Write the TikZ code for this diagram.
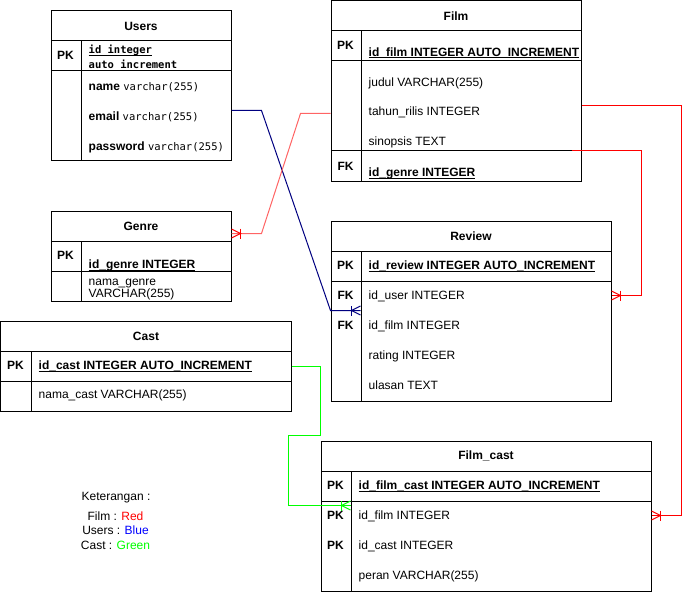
\documentclass[tikz,border=0pt]{standalone}
\usepackage{fontspec}
\setmainfont{Liberation Sans}
\setmonofont{DejaVu Sans Mono}

\definecolor{filmred}{RGB}{255,0,0}
\definecolor{filmpink}{RGB}{255,100,100}
\definecolor{userblue}{RGB}{0,0,128}
\definecolor{castgreen}{RGB}{0,255,0}

\newcommand{\sqltype}[1]{{\fontsize{10.5}{12}\selectfont\ttfamily #1}}
\newcommand{\keyfield}[1]{\setbox0\hbox{#1}\rlap{\rule[-2pt]{\wd0}{1pt}}\box0}

\tikzset{
  cell/.style={draw, anchor=north west, inner sep=0pt, line width=1pt},
  key/.style={anchor=base, inner sep=0pt, font=\fontsize{12}{14}\selectfont\bfseries},
  fld/.style={anchor=base west, inner sep=0pt},
  link/.style={line width=1pt},
  many/.pic={
    \draw[line width=1pt] (0,-4.5) -- (9,0) -- (0,4.5);
    \draw[line width=1pt] (9,-5) -- (9,5);
  }
}

\begin{document}
\begin{tikzpicture}[x=1pt, y=-1pt, font=\fontsize{12}{14}\selectfont]
\useasboundingbox (-0.5,-0.5) rectangle (688.5,590.8);

% Users
\node[cell, minimum width=180, minimum height=30] (users) at (50,10) {\textbf{Users}};
\node[cell, minimum width=30, minimum height=30] (users-pk) at (50,40) {};
\node[cell, minimum width=150, minimum height=30] (users-pkf) at (80,40) {};
\node[cell, minimum width=30, minimum height=90] (users-k) at (50,70) {};
\node[cell, minimum width=150, minimum height=90] (users-f) at (80,70) {};
\node[key] (users-pklbl) at (65,59.5) {PK};
\node[fld, font=\fontsize{10.5}{12}\selectfont\ttfamily\bfseries] (users-id) at (88,53.5) {\keyfield{id integer}};
\node[fld, font=\fontsize{10.5}{12}\selectfont\ttfamily\bfseries] (users-auto) at (88,68) {auto increment};
\node[fld] (users-name) at (88,90) {\textbf{name} \sqltype{varchar(255)}};
\node[fld] (users-email) at (88,120) {\textbf{email} \sqltype{varchar(255)}};
\node[fld] (users-pass) at (88,150) {\textbf{password} \sqltype{varchar(255)}};

% Film
\node[cell, minimum width=250, minimum height=30] (film) at (330,0) {\textbf{Film}};
\node[cell, minimum width=30, minimum height=30] (film-pk) at (330,30) {};
\node[cell, minimum width=220, minimum height=30] (film-pkf) at (360,30) {};
\node[cell, minimum width=30, minimum height=90] (film-k) at (330,60) {};
\node[cell, minimum width=220, minimum height=90] (film-f) at (360,60) {};
\node[cell, minimum width=30, minimum height=30] (film-fk) at (330,150) {};
\node[cell, minimum width=220, minimum height=30] (film-fkf) at (360,150) {};
\node[key] (film-pklbl) at (345,49) {PK};
\node[fld] (film-id) at (368,56) {\keyfield{\textbf{id\_film INTEGER AUTO\_INCREMENT}}};
\node[fld] (film-judul) at (368,86) {judul VARCHAR(255)};
\node[fld] (film-tahun) at (368,115.5) {tahun\_rilis INTEGER};
\node[fld] (film-sinopsis) at (368,145.5) {sinopsis TEXT};
\node[key] (film-fklbl) at (345,169.5) {FK};
\node[fld] (film-genre) at (368,176) {\keyfield{\textbf{id\_genre INTEGER}}};

% Genre
\node[cell, minimum width=180, minimum height=30] (genre) at (50,210) {\textbf{Genre}};
\node[cell, minimum width=30, minimum height=30] (genre-pk) at (50,240) {};
\node[cell, minimum width=150, minimum height=30] (genre-pkf) at (80,240) {};
\node[cell, minimum width=30, minimum height=30] (genre-k) at (50,270) {};
\node[cell, minimum width=150, minimum height=30] (genre-f) at (80,270) {};
\node[key] (genre-pklbl) at (65,259) {PK};
\node[fld] (genre-id) at (88,268) {\keyfield{\textbf{id\_genre INTEGER}}};
\node[fld] (genre-nama) at (88,284.5) {nama\_genre};
\node[fld] (genre-type) at (88,296.5) {VARCHAR(255)};

% Cast
\node[cell, minimum width=290, minimum height=30] (cast) at (0,320) {\textbf{Cast}};
\node[cell, minimum width=30, minimum height=30] (cast-pk) at (0,350) {};
\node[cell, minimum width=260, minimum height=30] (cast-pkf) at (30,350) {};
\node[cell, minimum width=30, minimum height=30] (cast-k) at (0,380) {};
\node[cell, minimum width=260, minimum height=30] (cast-f) at (30,380) {};
\node[key] (cast-pklbl) at (15,369) {PK};
\node[fld] (cast-id) at (38,369) {\keyfield{\textbf{id\_cast INTEGER AUTO\_INCREMENT}}};
\node[fld] (cast-nama) at (38,397.5) {nama\_cast VARCHAR(255)};

% Review
\node[cell, minimum width=280, minimum height=30] (review) at (330,220) {\textbf{Review}};
\node[cell, minimum width=30, minimum height=30] (review-pk) at (330,250) {};
\node[cell, minimum width=250, minimum height=30] (review-pkf) at (360,250) {};
\node[cell, minimum width=30, minimum height=120] (review-k) at (330,280) {};
\node[cell, minimum width=250, minimum height=120] (review-f) at (360,280) {};
\node[key] (review-pklbl) at (345,269) {PK};
\node[fld] (review-id) at (368,269) {\keyfield{\textbf{id\_review INTEGER AUTO\_INCREMENT}}};
\node[key] (review-fk1) at (345,299) {FK};
\node[fld] (review-user) at (368,299) {id\_user INTEGER};
\node[key] (review-fk2) at (345,329) {FK};
\node[fld] (review-film) at (368,329) {id\_film INTEGER};
\node[fld] (review-rating) at (368,359) {rating INTEGER};
\node[fld] (review-ulasan) at (368,389) {ulasan TEXT};

% Film_cast
\node[cell, minimum width=330, minimum height=30] (fcast) at (320,440) {\textbf{Film\_cast}};
\node[cell, minimum width=30, minimum height=30] (fcast-pk) at (320,470) {};
\node[cell, minimum width=300, minimum height=30] (fcast-pkf) at (350,470) {};
\node[cell, minimum width=30, minimum height=90] (fcast-k) at (320,500) {};
\node[cell, minimum width=300, minimum height=90] (fcast-f) at (350,500) {};
\node[key] (fcast-pklbl) at (335,489) {PK};
\node[fld] (fcast-id) at (358,489) {\keyfield{\textbf{id\_film\_cast INTEGER AUTO\_INCREMENT}}};
\node[key] (fcast-pk2) at (335,519) {PK};
\node[fld] (fcast-film) at (358,519) {id\_film INTEGER};
\node[key] (fcast-pk3) at (335,549) {PK};
\node[fld] (fcast-cast) at (358,549) {id\_cast INTEGER};
\node[fld] (fcast-peran) at (358,579) {peran VARCHAR(255)};

% connector ends
\coordinate (users-out) at (users-f.east |- 0,110);
\coordinate (review-in1) at (review-f.west |- 0,310);
\coordinate (film-out1) at (film-k.west |- 0,113);
\coordinate (genre-in) at (genre.east |- 0,233);
\coordinate (film-out2) at (571,150);
\coordinate (review-in2) at (review-f.east |- 0,295);
\coordinate (film-out3) at (film-f.east |- 0,105);
\coordinate (fcast-in1) at (fcast-f.east |- 0,515);
\coordinate (cast-out) at (cast-pkf.east);
\coordinate (fcast-in2) at (fcast-f.west |- 0,505);

% relations
\draw[link, userblue] (users-out) -- ++(30,0) -- ([xshift=-30pt]review-in1) -- (review-in1);
\pic[userblue, rotate=180] at (review-in1) {many};
\draw[link, filmpink] (film-out1) -- ++(-30,0) -- ([xshift=30pt]genre-in) -- (genre-in);
\pic[filmred] at (genre-in) {many};
\draw[link, filmred] (film-out2) -| ([xshift=30pt]review-in2) -- (review-in2);
\pic[filmred] at (review-in2) {many};
\draw[link, filmred] (film-out3) -| ([xshift=30pt]fcast-in1) -- (fcast-in1);
\pic[filmred] at (fcast-in1) {many};
\draw[link, castgreen] (cast-out) -| (320,435) -- (288,435) |- (fcast-in2);
\pic[castgreen, rotate=180] at (fcast-in2) {many};

% legend
\node[anchor=base] (legend-title) at (115.5,500) {Keterangan :};
\node[anchor=base] (legend-film) at (115,520) {Film : \textcolor{filmred}{Red}};
\node[anchor=base] (legend-users) at (115,534) {Users : \textcolor{blue}{Blue}};
\node[anchor=base] (legend-cast) at (115,548.5) {Cast : \textcolor{castgreen}{Green}};
\end{tikzpicture}
\end{document}
